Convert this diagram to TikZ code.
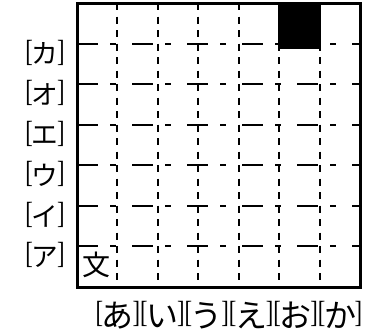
\documentclass[tikz,border=0pt]{standalone}
\usepackage{graphicx}
\usepackage{fontspec}
\setmainfont{Liberation Serif}
\newfontfamily\jp{Noto Sans CJK JP}
\newcommand{\brk}[2]{\raisebox{#1}{\fontsize{17}{17}\selectfont\scalebox{1}[1.35]{#2}}}
\newcommand{\klb}[1]{\brk{3.4pt}{[}\kern-1pt{\jp\fontsize{24}{26}\selectfont #1}\kern-1pt\brk{3.4pt}{]}}
\newcommand{\klr}[1]{\brk{1.9pt}{[}\kern-1pt{\jp\fontsize{20}{22}\selectfont #1}\kern-1pt\brk{1.9pt}{]}}
\tikzset{
 gridh/.style={line width=1.5pt, dash pattern=on 15.75pt off 9pt on 4.5pt off 12pt},
 gridv/.style={line width=1.5pt, dash pattern=on 5.25pt off 4.875pt},
 frame/.style={line width=2.25pt},
 lab/.style={inner sep=0pt},
}
\begin{document}
\begin{tikzpicture}[x=0.75pt,y=-0.75pt]
\useasboundingbox (0,0) rectangle (383,333);
\foreach \i in {1,...,6} \draw[gridh] (77,3+40.57*\i) -- (360,3+40.57*\i);
\foreach \i in {1,...,6} \draw[gridv] (77+40.43*\i,3) -- (77+40.43*\i,287);
\fill (278,3) rectangle (321,49);
\draw[frame] (77,3) rectangle (360,287);
\node[lab, font=\jp\fontsize{21}{23}\selectfont] (bun) at (97,265) {文};
\node[lab] (ka) at (45,52.6) {\klr{カ}};
\node[lab] (o) at (45,93.1) {\klr{オ}};
\node[lab] (e) at (45,133.7) {\klr{エ}};
\node[lab] (u) at (45,174.3) {\klr{ウ}};
\node[lab] (i) at (45,214.9) {\klr{イ}};
\node[lab] (a) at (45,255.4) {\klr{ア}};
\node[lab] (cols) at (229,315) {\klb{あ}\klb{い}\klb{う}\klb{え}\klb{お}\klb{か}};
\end{tikzpicture}
\end{document}
